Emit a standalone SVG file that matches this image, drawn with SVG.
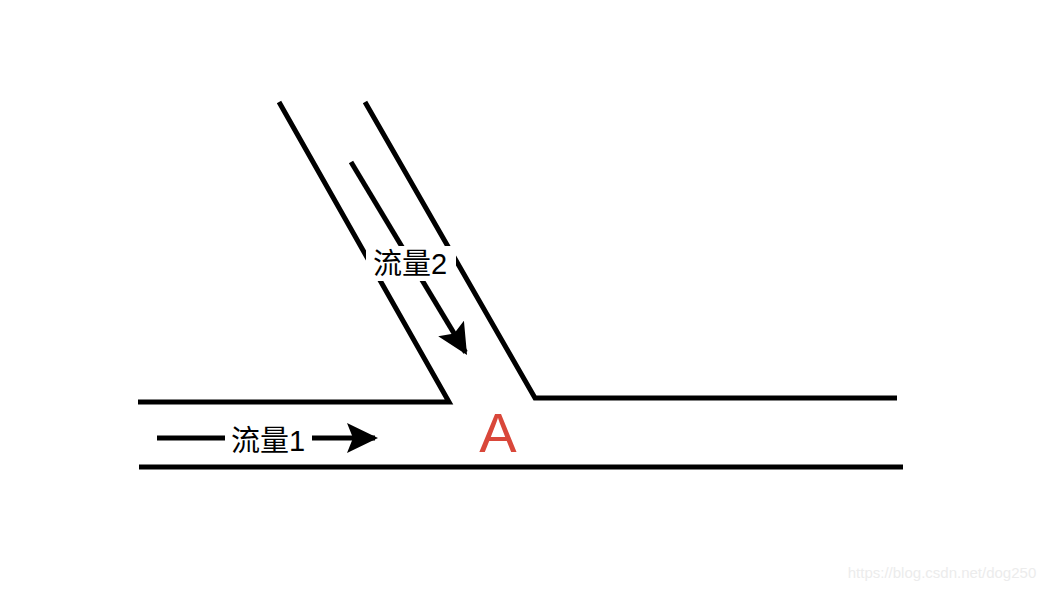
<svg xmlns="http://www.w3.org/2000/svg" width="1052" height="590" viewBox="0 0 1052 590">
<style>
.wall{stroke:#000;stroke-width:5;fill:none;stroke-linejoin:miter}
.flow{stroke:#000;stroke-width:5;fill:none}
.lbl{font-family:"Liberation Sans","Noto Sans CJK SC",sans-serif;font-size:29px;fill:#000;text-anchor:middle}
.bg{fill:#fff}
</style>
<defs>
<marker id="head" markerUnits="userSpaceOnUse" markerWidth="44" markerHeight="36" viewBox="-38 -18 44 36" refX="0" refY="0" orient="auto">
<path d="M3,0 L-28,-15 L-22,0 L-28,15 Z" fill="#000"/>
</marker>
</defs>
<rect width="1052" height="590" fill="#fff"/>
<g id="walls">
<polyline class="wall" points="138,402 449,402 279,102"/>
<polyline class="wall" points="365,102 535,398 897,398"/>
<line class="wall" x1="139" y1="467" x2="903" y2="467"/>
</g>
<g id="connectors">
<line class="flow" x1="157" y1="438" x2="375" y2="438" marker-end="url(#head)"/>
<line class="flow" x1="351" y1="162" x2="465.5" y2="352.4" marker-end="url(#head)"/>
</g>
<g id="label-flow1">
<rect class="bg" x="225" y="424" width="87" height="32"/>
<text class="lbl" x="268" y="451">流量1</text>
</g>
<g id="label-flow2">
<rect class="bg" x="366" y="246" width="90" height="35"/>
<text class="lbl" x="410" y="274">流量2</text>
</g>
<g id="point-A">
<text x="498" y="452" font-family="Liberation Sans,sans-serif" font-size="56" fill="#d9473a" text-anchor="middle">A</text>
</g>
<text x="942" y="578" font-family="Liberation Sans,sans-serif" font-size="15" fill="#ececec" text-anchor="middle">https://blog.csdn.net/dog250</text>
</svg>
